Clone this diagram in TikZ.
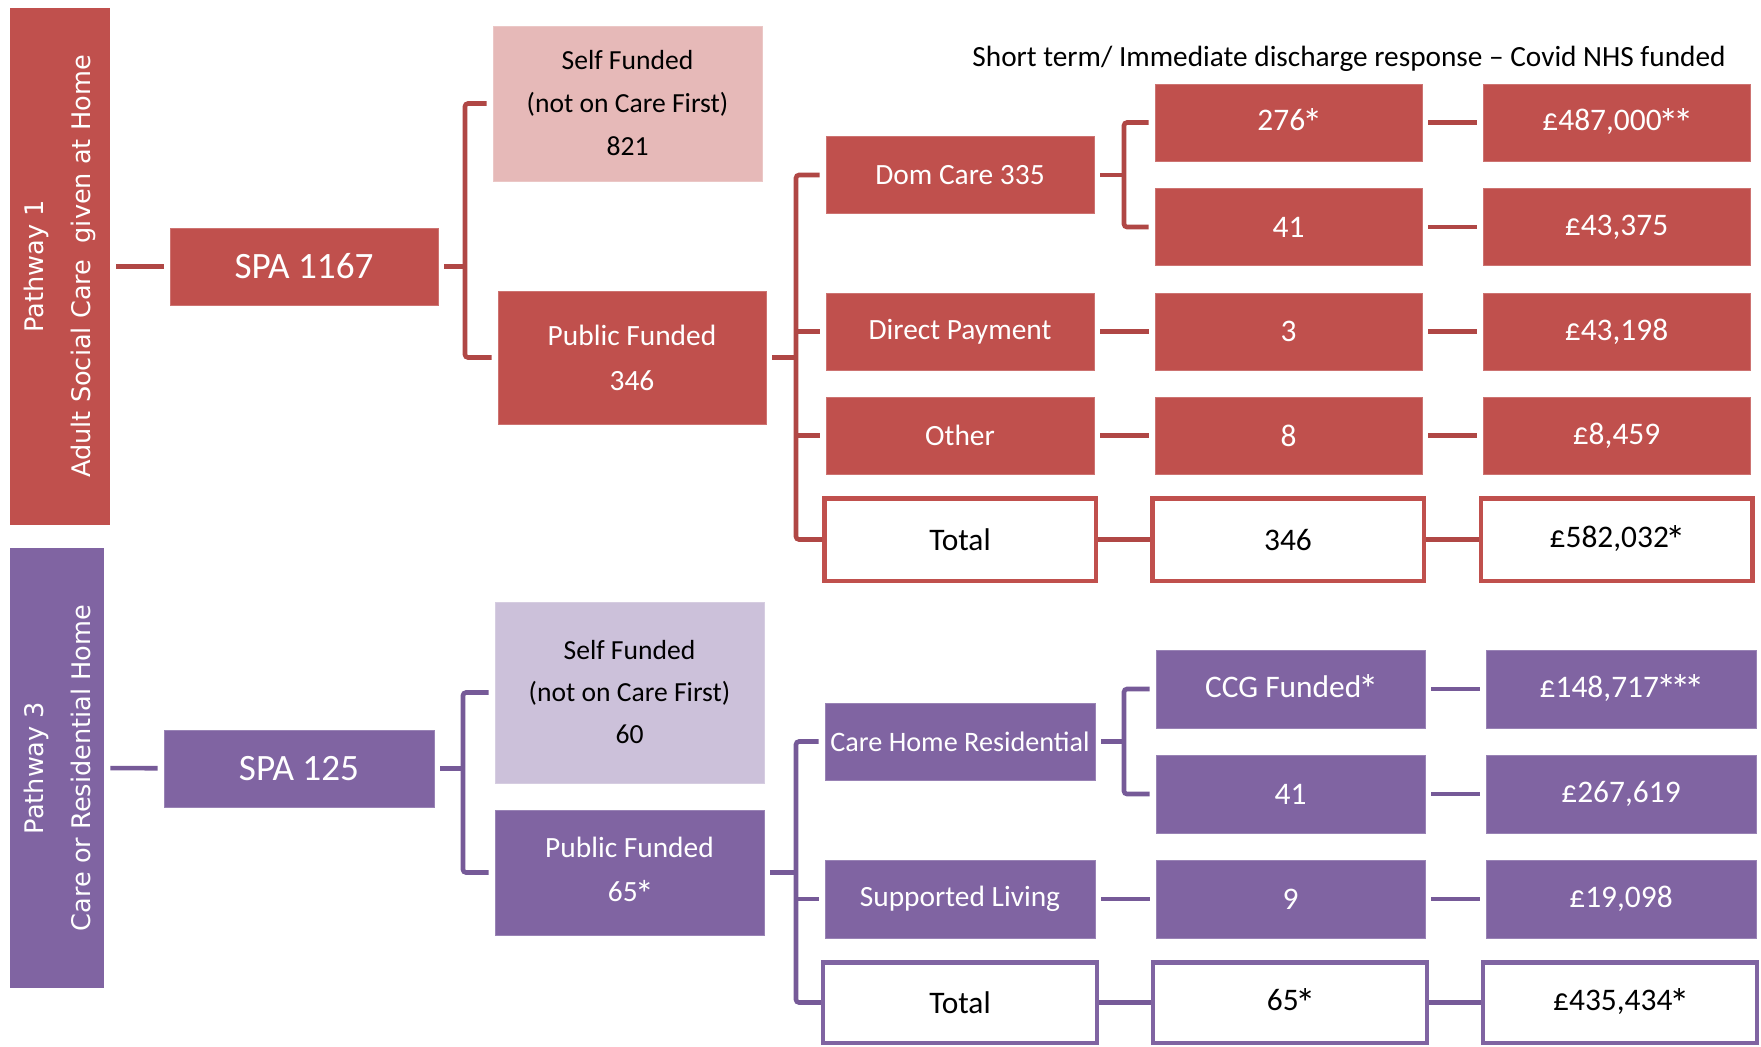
\documentclass[tikz,border=0pt]{standalone}
\usepackage{fontspec}
\usepackage{graphicx}
\setmainfont{Carlito}
\newfontfamily\pathfont{DejaVu Sans}
\newcommand\astk{\makebox[0.46em]{\raisebox{-0.2em}{\scalebox{1.3}{*}}}}
\definecolor{RF}{HTML}{C0504D}
\definecolor{RL}{HTML}{E6B9B8}
\definecolor{RC}{HTML}{B04745}
\definecolor{PF}{HTML}{8064A2}
\definecolor{PL}{HTML}{CCC1DA}
\definecolor{PC}{HTML}{765A98}
\begin{document}
\begin{tikzpicture}[x=0.5pt,y=-0.5pt,
  base/.style={rectangle, inner sep=0pt, align=center, font=\fontsize{14.7}{22}\selectfont},
  numf/.style={font=\fontsize{15.7}{19}\selectfont},
  rbox/.style={base, fill=RF, draw=RF!80!white, line width=0.4pt, text=white, minimum width=134pt, minimum height=38.5pt},
  pbox/.style={base, fill=PF, draw=PF!80!white, line width=0.4pt, text=white, minimum width=134.5pt, minimum height=39pt},
  rlight/.style={base, fill=RL, draw=RL!80!white, line width=0.4pt, text=black, font=\fontsize{13.8}{21.5}\selectfont},
  plight/.style={base, fill=PL, draw=PL!80!white, line width=0.4pt, text=black, font=\fontsize{13.8}{21}\selectfont},
  rtot/.style={base, numf, fill=white, draw=RF, line width=2.25pt, text=black, minimum width=135.75pt, minimum height=41.25pt},
  ptot/.style={base, numf, fill=white, draw=PF, line width=2.25pt, text=black, minimum width=137pt, minimum height=40.25pt},
  pathbox/.style={rectangle, inner sep=0pt, align=center, rotate=90, text=white, font=\pathfont\fontsize{12.8}{23.5}\selectfont},
  spafont/.style={font=\fontsize{18.6}{22}\selectfont},
  rline/.style={draw=RC, line width=2.3pt, rounded corners=1.5pt},
  pline/.style={draw=PC, line width=2.3pt, rounded corners=1.5pt},
  gap/.style={shorten <=3pt, shorten >=3pt}
]
\useasboundingbox (0,0) rectangle (1761,1046);

% title
\node[anchor=base, font=\fontsize{14.65}{17}\selectfont, inner sep=0pt] (title) at (1349,66) {Short term/ Immediate discharge response – Covid NHS funded};

% ---------------- Pathway 1 ----------------
\node[pathbox, fill=RF, minimum width=258.5pt, minimum height=50pt] (p1) at (60,266.5) {Pathway 1\\Adult Social Care\ \ given at Home};
\node[rbox, spafont] (spa1) at (304,266.5) {SPA 1167};
\node[rlight, minimum width=134.5pt, minimum height=77.5pt] (self1) at (627.5,103.5) {Self Funded\\(not on Care First)\\821};
\node[rbox, minimum height=66.5pt, font=\fontsize{14.7}{22.5}\selectfont] (pub1) at (632,357.5) {Public Funded\\346};

\node[rbox] (dom) at (960,175) {Dom Care 335};
\node[rbox] (dp) at (960,331.5) {Direct Payment};
\node[rbox] (oth) at (960,435.5) {Other};
\node[rtot] (tot1) at (960,539.5) {Total};

\node[rbox, numf, minimum width=133.5pt] (r276) at (1288.5,122.5) {276\astk};
\node[rbox, numf, minimum width=133.5pt] (r41) at (1288.5,227) {41};
\node[rbox, numf, minimum width=133.5pt] (r3) at (1288.5,331.5) {3};
\node[rbox, numf, minimum width=133.5pt] (r8) at (1288.5,435.5) {8};
\node[rtot] (tot2) at (1288,539.5) {346};

\node[rbox, numf, minimum width=133.5pt] (r487) at (1616.5,122.5) {£487,000\astk\astk};
\node[rbox, numf, minimum width=133.5pt] (r43375) at (1616.5,227) {£43,375};
\node[rbox, numf, minimum width=133.5pt] (r43198) at (1616.5,331.5) {£43,198};
\node[rbox, numf, minimum width=133.5pt] (r8459) at (1616.5,435.5) {£8,459};
\node[rtot] (tot3) at (1616.5,539.5) {£582,032\astk};

\coordinate (k1) at (465,266.5);
\coordinate (k2) at (796,357.5);
\coordinate (k3) at (1124,175);

\draw[rline, gap] (p1) -- (spa1);
\draw[rline] ([xshift=3pt]spa1.east) -- (k1);
\draw[rline] ([xshift=-3pt]self1.west) -| (k1) |- ([xshift=-3pt]pub1.west);
\draw[rline] ([xshift=3pt]pub1.east) -- (k2);
\draw[rline] ([xshift=-3pt]dom.west) -| (k2) |- (tot1.west);
\draw[rline] ([xshift=-3pt]dp.west) -- (dp.west -| k2);
\draw[rline] ([xshift=-3pt]oth.west) -- (oth.west -| k2);
\draw[rline] ([xshift=3pt]dom.east) -- (k3);
\draw[rline] ([xshift=-3pt]r276.west) -| (k3) |- ([xshift=-3pt]r41.west);
\draw[rline, gap] (r276.east) -- (r487.west);
\draw[rline, gap] (r41.east) -- (r43375.west);
\draw[rline, gap] (dp.east) -- (r3.west);
\draw[rline, gap] (r3.east) -- (r43198.west);
\draw[rline, gap] (oth.east) -- (r8.west);
\draw[rline, gap] (r8.east) -- (r8459.west);
\draw[rline] (tot1.east) -- (tot2.west);
\draw[rline] (tot2.east) -- (tot3.west);

% ---------------- Pathway 3 ----------------
\node[pathbox, fill=PF, minimum width=220pt, minimum height=47pt] (p3) at (57,768) {Pathway 3\\Care or Residential Home};
\node[pbox, spafont, minimum width=135pt, minimum height=38.5pt] (spa3) at (299,768.5) {SPA 125};
\node[plight, minimum width=134.5pt, minimum height=90.5pt] (self3) at (629.5,692.5) {Self Funded\\(not on Care First)\\60};
\node[pbox, minimum height=62.5pt, font=\fontsize{14.7}{22}\selectfont] (pub3) at (629.5,872.5) {Public Funded\\65\astk};

\node[pbox, minimum width=135pt, minimum height=38.5pt, font=\fontsize{14.1}{17}\selectfont] (chr) at (960,741.5) {Care Home Residential};
\node[pbox, minimum width=135pt] (sl) at (960,899) {Supported Living};
\node[ptot] (ptot1) at (960,1002.5) {Total};

\node[pbox, numf] (ccg) at (1290.5,689) {CCG Funded\astk};
\node[pbox, numf] (p41) at (1290.5,794) {41};
\node[pbox, numf] (p9) at (1290.5,899) {9};
\node[ptot] (ptot2) at (1290,1002.5) {65\astk};

\node[pbox, numf, minimum width=135pt] (p148) at (1621,689) {£148,717\astk\astk\astk};
\node[pbox, numf, minimum width=135pt] (p267) at (1621,794) {£267,619};
\node[pbox, numf, minimum width=135pt] (p19) at (1621,899) {£19,098};
\node[ptot] (ptot3) at (1620,1002.5) {£435,434\astk};

\coordinate (k4) at (463,768.5);
\coordinate (k5) at (796,872.5);
\coordinate (k6) at (1124,741.5);

\draw[pline, gap] (p3) -- (spa3);
\draw[pline] ([xshift=3pt]spa3.east) -- (k4);
\draw[pline] ([xshift=-3pt]self3.west) -| (k4) |- ([xshift=-3pt]pub3.west);
\draw[pline] ([xshift=3pt]pub3.east) -- (k5);
\draw[pline] ([xshift=-3pt]chr.west) -| (k5) |- (ptot1.west);
\draw[pline] ([xshift=-3pt]sl.west) -- (sl.west -| k5);
\draw[pline] ([xshift=3pt]chr.east) -- (k6);
\draw[pline] ([xshift=-3pt]ccg.west) -| (k6) |- ([xshift=-3pt]p41.west);
\draw[pline, gap] (ccg.east) -- (p148.west);
\draw[pline, gap] (p41.east) -- (p267.west);
\draw[pline, gap] (sl.east) -- (p9.west);
\draw[pline, gap] (p9.east) -- (p19.west);
\draw[pline] (ptot1.east) -- (ptot2.west);
\draw[pline] (ptot2.east) -- (ptot3.west);
\end{tikzpicture}
\end{document}
